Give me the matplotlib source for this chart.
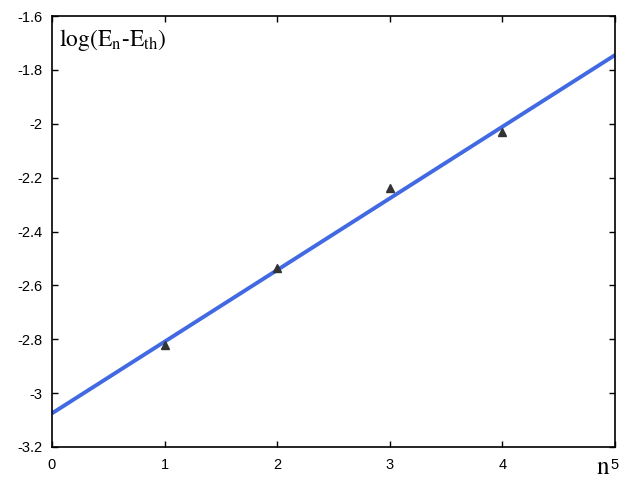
import numpy as np
import matplotlib
matplotlib.use("Agg")
import matplotlib.pyplot as plt

plt.rcParams["mathtext.fontset"] = "stix"

# ------------------- data -------------------
n_points = [1, 2, 3, 4]
log_points = [-2.82, -2.535, -2.24, -2.03]

fit_n = [0.0, 5.0]
fit_log = [-3.075, -1.745]

x_ticks = [0, 1, 2, 3, 4, 5]
y_ticks = [-3.2, -3.0, -2.8, -2.6, -2.4, -2.2, -2.0, -1.8, -1.6]
y_labels = ["-3.2", "-3", "-2.8", "-2.6", "-2.4", "-2.2", "-2", "-1.8", "-1.6"]

fig = plt.figure(figsize=(6.4, 4.8), dpi=100)
ax = fig.add_axes([52 / 640, 33 / 480, 563 / 640, 431 / 480])

ax.plot(fit_n, fit_log, color="#4169e1", lw=2.8, solid_capstyle="butt", zorder=2)
ax.plot(n_points, log_points, ls="none", marker="^", ms=6,
        color="#333333", zorder=3)

ax.set_xlim(0, 5)
ax.set_ylim(-3.2, -1.6)
ax.set_xticks(x_ticks)
ax.set_xticklabels([str(t) for t in x_ticks])
ax.set_yticks(y_ticks)
ax.set_yticklabels(y_labels)

ax.tick_params(direction="in", length=4, width=1, top=True, right=True,
               labelsize=10.5, labelfontfamily="Liberation Sans", colors="black")
ax.tick_params(axis="x", pad=8)
ax.tick_params(axis="y", pad=7)
for s in ax.spines.values():
    s.set_linewidth(1.2)

ax.text(0.013, 0.975, r"$\mathrm{log(E_n}$-$\mathrm{E_{th})}$",
        transform=ax.transAxes, ha="left", va="top", fontsize=17,
        family="STIXGeneral")
fig.text(603 / 640, 1 - 474 / 480, "n", ha="center", va="baseline",
         fontsize=18, family="STIXGeneral")

fig.savefig("out.png", dpi=100)
